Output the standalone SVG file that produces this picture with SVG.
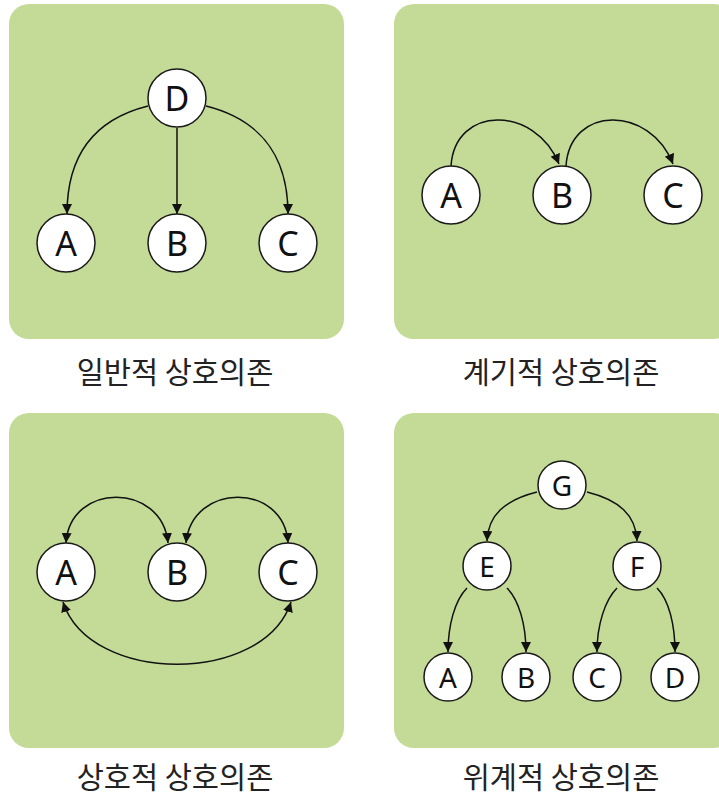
<svg xmlns="http://www.w3.org/2000/svg" width="719" height="796" viewBox="0 0 719 796">
  <defs>
    <style>
      .panel { fill: #c3db97; }
      .node circle { fill: #ffffff; stroke: #1a1a1a; stroke-width: 1.5; }
      .node text { font-family: "Noto Sans", "Open Sans", sans-serif; fill: #111111; text-anchor: middle; dominant-baseline: central; }
      .big text { font-size: 34px; }
      .small text { font-size: 28px; }
      .edge { fill: none; stroke: #111111; stroke-width: 1.5; }
      .caption { font-family: "Noto Sans CJK KR", "Noto Sans", sans-serif; font-size: 29.5px; fill: #222222; text-anchor: middle; dominant-baseline: central; }
    </style>
    <marker id="arrow" viewBox="0 0 10 10" refX="10" refY="5" markerWidth="10" markerHeight="10" markerUnits="userSpaceOnUse" orient="auto-start-reverse">
      <path d="M0,0 L10,5 L0,10 Z" fill="#111111"/>
    </marker>
  </defs>

  <!-- background panels -->
  <rect class="panel" x="9" y="4" width="335" height="335" rx="20"/>
  <rect class="panel" x="394" y="4" width="340" height="335" rx="20"/>
  <rect class="panel" x="9" y="413" width="335" height="335" rx="20"/>
  <rect class="panel" x="394" y="413" width="340" height="335" rx="20"/>

  <!-- connectors -->
  <g id="connectors">
    <!-- general: D to A, B, C -->
    <path class="edge" d="M148,106 C100,118 67,150 67,214" marker-end="url(#arrow)"/>
    <path class="edge" d="M177,128 L177,214" marker-end="url(#arrow)"/>
    <path class="edge" d="M206,106 C254,118 288,150 288,214" marker-end="url(#arrow)"/>
    <!-- sequential: A to B to C -->
    <path class="edge" d="M451,166 C455,105 535,105 559,164" marker-end="url(#arrow)"/>
    <path class="edge" d="M566,166 C570,105 650,105 673,164" marker-end="url(#arrow)"/>
    <!-- reciprocal: A-B, B-C, A-C -->
    <path class="edge" d="M66,543 C70,482 162,482 168,543" marker-start="url(#arrow)" marker-end="url(#arrow)"/>
    <path class="edge" d="M186,543 C192,482 284,482 288,543" marker-start="url(#arrow)" marker-end="url(#arrow)"/>
    <path class="edge" d="M63,602 C90,685 264,685 291,602" marker-start="url(#arrow)" marker-end="url(#arrow)"/>
    <!-- hierarchical: G to E, F; E to A, B; F to C, D -->
    <path class="edge" d="M537,492 C505,500 488,515 487,541" marker-end="url(#arrow)"/>
    <path class="edge" d="M587,492 C619,500 636,515 637,541" marker-end="url(#arrow)"/>
    <path class="edge" d="M467,588 C455,600 448,625 448,652" marker-end="url(#arrow)"/>
    <path class="edge" d="M507,588 C519,600 526,625 526,652" marker-end="url(#arrow)"/>
    <path class="edge" d="M617,588 C605,600 597,625 597,652" marker-end="url(#arrow)"/>
    <path class="edge" d="M657,588 C669,600 675,625 675,652" marker-end="url(#arrow)"/>
  </g>

  <!-- general interdependence -->
  <g id="p1-D" class="node big"><circle cx="177" cy="98" r="29"/><text x="177" y="98">D</text></g>
  <g id="p1-A" class="node big"><circle cx="66" cy="243" r="29"/><text x="66" y="243">A</text></g>
  <g id="p1-B" class="node big"><circle cx="177" cy="243" r="29"/><text x="177" y="243">B</text></g>
  <g id="p1-C" class="node big"><circle cx="288" cy="243" r="29"/><text x="288" y="243">C</text></g>
  <text class="caption" x="175" y="370">일반적 상호의존</text>

  <!-- sequential interdependence -->
  <g id="p2-A" class="node big"><circle cx="451" cy="195" r="29"/><text x="451" y="195">A</text></g>
  <g id="p2-B" class="node big"><circle cx="562" cy="195" r="29"/><text x="562" y="195">B</text></g>
  <g id="p2-C" class="node big"><circle cx="673" cy="195" r="29"/><text x="673" y="195">C</text></g>
  <text class="caption" x="561" y="370">계기적 상호의존</text>

  <!-- reciprocal interdependence -->
  <g id="p3-A" class="node big"><circle cx="66" cy="572" r="29"/><text x="66" y="572">A</text></g>
  <g id="p3-B" class="node big"><circle cx="177" cy="572" r="29"/><text x="177" y="572">B</text></g>
  <g id="p3-C" class="node big"><circle cx="288" cy="572" r="29"/><text x="288" y="572">C</text></g>
  <text class="caption" x="175" y="775">상호적 상호의존</text>

  <!-- hierarchical interdependence -->
  <g id="p4-G" class="node small"><circle cx="562" cy="485" r="24"/><text x="562" y="485">G</text></g>
  <g id="p4-E" class="node small"><circle cx="487" cy="566" r="24"/><text x="487" y="566">E</text></g>
  <g id="p4-F" class="node small"><circle cx="637" cy="566" r="24"/><text x="637" y="566">F</text></g>
  <g id="p4-A" class="node small"><circle cx="448" cy="677" r="24"/><text x="448" y="677">A</text></g>
  <g id="p4-B" class="node small"><circle cx="526" cy="677" r="24"/><text x="526" y="677">B</text></g>
  <g id="p4-C" class="node small"><circle cx="597" cy="677" r="24"/><text x="597" y="677">C</text></g>
  <g id="p4-D" class="node small"><circle cx="675" cy="677" r="24"/><text x="675" y="677">D</text></g>
  <text class="caption" x="561" y="775">위계적 상호의존</text>
</svg>
